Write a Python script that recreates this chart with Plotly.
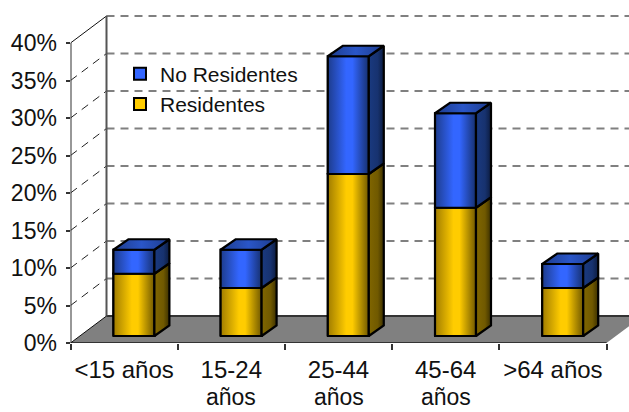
import plotly.graph_objects as go

categories = ["&lt;15 años", "15-24", "25-44", "45-64", "&gt;64 años"]
second_line = ["", "años", "años", "años", ""]
residentes = [8.3, 6.4, 21.6, 17.1, 6.4]
no_residentes = [3.2, 5.1, 15.7, 12.6, 3.2]
y_ticks = [0, 5, 10, 15, 20, 25, 30, 35, 40]
y_labels = ["0%", "5%", "10%", "15%", "20%", "25%", "30%", "35%", "40%"]

W, H = 629, 412
PX_X = 107.2           # pixels per category
PX_Y = 7.5             # pixels per percent
LEFT, BOTTOM = 70.5, 343
DX, DY = 36 / PX_X, 27 / PX_Y      # depth of the 3D box
BW = 41 / PX_X                     # bar width
BDX, BDY = 15 / PX_X, 10.5 / PX_Y  # bar depth
OX, OY = 9.8 / PX_X, 7 / PX_Y      # bar offset inside the box
X0 = -0.5
X1 = X0 + (W - LEFT) / PX_X
Y1 = BOTTOM / PX_Y
N = len(categories)
XEND = X0 + N
FONT = "Liberation Sans, Arial"
TEXT = "#111111"

YEL = dict(front=[[0, "#a07c00"], [0.45, "#ffcc00"], [0.6, "#ffcc00"], [1, "#705800"]],
           side=[[0, "#806600"], [0.6, "#705900"], [1, "#3c3000"]],
           top=[[0, "#a07c00"], [0.5, "#ffcc00"], [1, "#806600"]])
BLU = dict(front=[[0, "#1d3c8c"], [0.45, "#3366ff"], [0.6, "#3366ff"], [1, "#16306e"]],
           side=[[0, "#1a3a80"], [0.6, "#17326f"], [1, "#0c1c40"]],
           top=[[0, "#1d3c8c"], [0.5, "#2a56c8"], [1, "#1d3c8c"]])


def poly(xs, ys, scale):
    return go.Scatter(
        x=xs + xs[:1], y=ys + ys[:1], mode="lines", fill="toself",
        line=dict(color="black", width=2.2), showlegend=False, hoverinfo="skip",
        fillgradient=dict(type="horizontal", colorscale=scale),
    )


def seg(p0, p1, color, width, dash="solid"):
    return dict(type="line", xref="x", yref="y", layer="below",
                x0=p0[0], y0=p0[1], x1=p1[0], y1=p1[1],
                line=dict(color=color, width=width, dash=dash))


fig = go.Figure()

# front faces (real bars, also providing the legend)
xs = [i + OX for i in range(N)]
fig.add_bar(x=xs, y=no_residentes, base=[OY + r for r in residentes], width=BW,
            name="No Residentes", legendgroup="a",
            marker=dict(color="#3366ff", line=dict(color="black", width=2)))
fig.add_bar(x=xs, y=residentes, base=[OY] * N, width=BW,
            name="Residentes", legendgroup="b",
            marker=dict(color="#ffcc00", line=dict(color="black", width=2)))

for i in range(N):
    l, r = xs[i] - BW / 2, xs[i] + BW / 2
    y0 = OY
    y1 = OY + residentes[i]
    y2 = y1 + no_residentes[i]
    # gradient front faces, side faces, top
    fig.add_trace(poly([l, r, r, l], [y0, y0, y1, y1], YEL["front"]))
    fig.add_trace(poly([l, r, r, l], [y1, y1, y2, y2], BLU["front"]))
    fig.add_trace(poly([r, r + BDX, r + BDX, r], [y0, y0 + BDY, y1 + BDY, y1], YEL["side"]))
    fig.add_trace(poly([r, r + BDX, r + BDX, r], [y1, y1 + BDY, y2 + BDY, y2], BLU["side"]))
    fig.add_trace(poly([l, r, r + BDX, l + BDX], [y2, y2, y2 + BDY, y2 + BDY], BLU["top"]))

shapes = [dict(type="path", xref="x", yref="y", layer="below",
               path=f"M{X0},0 L{XEND},0 L{XEND + DX},{DY} L{X0 + DX},{DY} Z",
               fillcolor="#808080", line=dict(width=0))]
for v in y_ticks[1:]:
    shapes.append(seg((X0 + DX, v + DY), (X1, v + DY), "#808080", 2, "8px,6px"))
    if v < y_ticks[-1]:
        shapes.append(seg((X0, v), (X0 + DX, v + DY), "#222222", 1, "8px,6px"))
shapes.append(seg((X0, 40), (X0 + DX, 40 + DY), "#111111", 1))
shapes.append(seg((X0 + DX, DY), (X1, DY), "#333333", 2))
shapes.append(seg((X0 + DX, DY), (X0 + DX, 40 + DY), "#555555", 2))
shapes.append(seg((X0, 0), (X0, 40), "#333333", 2))
shapes.append(seg((X0, 0), (XEND, 0), "#333333", 2))
shapes.append(seg((X0, 0), (X0 + DX, DY), "#111111", 1))

annotations = [dict(x=i, y=0, xref="x", yref="y", yshift=-54, yanchor="middle", text=t,
                    showarrow=False, font=dict(family=FONT, size=23, color=TEXT))
               for i, t in enumerate(second_line) if t]

fig.update_layout(
    width=W, height=H, autosize=False,
    margin=dict(l=0, r=0, t=0, b=0, pad=0, autoexpand=False),
    paper_bgcolor="white", plot_bgcolor="white", barmode="overlay",
    font=dict(family=FONT, size=23, color=TEXT),
    shapes=shapes, annotations=annotations,
    legend=dict(x=120 / W, y=1 - 53.5 / H, xanchor="left", yanchor="top",
                bgcolor="rgba(0,0,0,0)", tracegroupgap=0, itemwidth=30,
                font=dict(size=21)),
    xaxis=dict(domain=[LEFT / W, 1], range=[X0, X1], tickmode="array",
               tickvals=list(range(N)), ticktext=categories, ticks="", showgrid=False,
               zeroline=False, showline=False, ticklabelstandoff=10,
               tickfont=dict(size=24),
               minor=dict(tickmode="array", tickvals=[X0 + k for k in range(N + 1)],
                          ticks="outside", ticklen=6, tickwidth=2, tickcolor="#333333", showgrid=False)),
    yaxis=dict(domain=[(H - BOTTOM) / H, 1], range=[0, Y1], tickmode="array",
               tickvals=y_ticks, ticktext=y_labels, ticks="outside", ticklen=4, tickwidth=2,
               tickcolor="#333333", showgrid=False, zeroline=False, showline=False,
               ticklabelstandoff=4),
)

fig.write_html("out.html", config=dict(displayModeBar=False),
               post_script="document.body.style.margin='0'")
